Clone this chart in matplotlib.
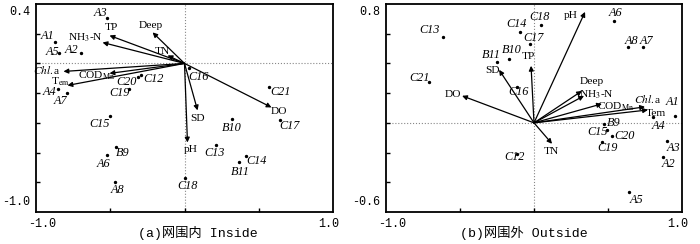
import numpy as np
import matplotlib.pyplot as plt

plt.rcParams['font.family'] = ['Liberation Serif', 'DejaVu Serif']
plt.rcParams['mathtext.fontset'] = 'stix'

# ---- panel (a): inside the enclosure ----
a_sites = ["A1", "A2", "A3", "A4", "A5", "A6", "A7", "A8", "B9", "B10", "B11",
           "C12", "C13", "C14", "C15", "C16", "C17", "C18", "C19", "C20", "C21"]
a_site_x = [-0.869, -0.694, -0.519, -0.855, -0.842, -0.525, -0.788, -0.465, -0.458, 0.323, 0.370,
            -0.290, 0.215, 0.411, -0.505, 0.027, 0.646, 0.000, -0.377, -0.316, 0.566]
a_site_y = [0.141, 0.067, 0.303, -0.175, 0.067, -0.619, -0.202, -0.801, -0.565, -0.377, -0.666,
            -0.081, -0.552, -0.626, -0.357, -0.034, -0.384, -0.774, -0.175, -0.094, -0.162]

a_vars = ["Deep", "TN", "TP", "NH3-N", "Chl.a", "COD", "Tem", "DO", "SD", "pH"]
a_var_x = [-0.215, -0.114, -0.505, -0.552, -0.815, -0.505, -0.788, 0.586, 0.088, 0.020]
a_var_y = [0.209, 0.054, 0.188, 0.141, -0.054, -0.067, -0.148, -0.296, -0.316, -0.532]

# ---- panel (b): outside the enclosure ----
b_sites = ["A1", "A2", "A3", "A4", "A5", "A6", "A7", "A8", "B9", "B10", "B11",
           "C12", "C13", "C14", "C15", "C16", "C17", "C18", "C19", "C20", "C21"]
b_site_x = [0.953, 0.872, 0.899, 0.804, 0.642, 0.541, 0.736, 0.635, 0.473, -0.169, -0.250,
            -0.115, -0.615, -0.095, 0.493, -0.115, -0.027, 0.047, 0.459, 0.527, -0.709]
b_site_y = [0.047, -0.229, -0.121, 0.040, -0.464, 0.686, 0.511, 0.511, -0.007, 0.431, 0.410,
            -0.209, 0.579, 0.612, -0.047, 0.242, 0.532, 0.659, -0.128, -0.087, 0.276]

b_vars = ["pH", "TP", "SD", "DO", "Deep", "NH3-N", "COD", "Chl.a", "Tem", "TN"]
b_var_x = [0.345, -0.020, -0.236, -0.486, 0.324, 0.338, 0.459, 0.750, 0.770, 0.122]
b_var_y = [0.747, 0.384, 0.357, 0.182, 0.215, 0.182, 0.128, 0.108, 0.087, -0.141]

# label text for variables
var_text_a = {"NH3-N": "NH$_3$-N", "Chl.a": "$\\mathit{Chl.}$a", "COD": "COD$_{\\rm Mn}$",
              "Tem": "T$_{\\rm em}$"}
var_text_b = {"NH3-N": "NH$_3$-N", "Chl.a": "$\\mathit{Chl.}$a", "COD": "COD$_{\\rm Mn}$",
              "Tem": "Tem"}

# label offsets (pixels) relative to point / arrow tip
a_site_off = {"A1": (-8, 6), "A2": (-10, 3), "A3": (-7, 5), "A4": (-8, -3), "A5": (-7, 1),
              "A6": (-3, -9), "A7": (-7, -8), "A8": (2, -8), "B9": (6, -6), "B10": (-1, -9),
              "B11": (1, -10), "C12": (12, -4), "C13": (-2, -8), "C14": (11, -5),
              "C15": (-10, -8), "C16": (10, -9), "C17": (9, -6), "C18": (3, -8),
              "C19": (-9, -4), "C20": (-11, -5), "C21": (12, -5)}
a_var_off = {"Deep": (-2, 7), "TN": (-5, 4), "TP": (2, 8), "NH3-N": (-17, 5),
             "Chl.a": (-17, 1), "COD": (-13, -2), "Tem": (-7, 4), "DO": (7, -4),
             "SD": (0, -8), "pH": (3, -7)}
b_site_off = {"A1": (-3, 14), "A2": (5, -7), "A3": (6, -7), "A4": (5, -9), "A5": (7, -8),
              "A6": (1, 8), "A7": (4, 6), "A8": (4, 6), "B9": (10, 1), "B10": (3, 9),
              "B11": (-6, 7), "C12": (-2, -3), "C13": (-13, 7), "C14": (-3, 8),
              "C15": (-9, -2), "C16": (2, -5), "C17": (3, 6), "C18": (-1, 8),
              "C19": (6, -6), "C20": (13, 0), "C21": (-10, 4)}
b_var_off = {"pH": (-14, -4), "TP": (-3, 9), "SD": (-7, -1), "DO": (-9, 1), "Deep": (10, 9),
             "NH3-N": (12, 1), "COD": (14, -3), "Chl.a": (3, 8), "Tem": (8, -4), "TN": (-1, -8)}

mono = ['Liberation Mono', 'Noto Sans CJK SC']

fig = plt.figure(figsize=(7, 2.44), dpi=100)
ax_a = fig.add_axes([36 / 700, 32 / 244, 297 / 700, 208 / 244])
ax_b = fig.add_axes([386 / 700, 32 / 244, 296 / 700, 208 / 244])


def draw(ax, ylim, yticks, sites, sx, sy, soff, vars_, vx, vy, voff, vtext,
         ylabels, caption, cap_x):
    ax.set_xlim(-1, 1)
    ax.set_ylim(*ylim)
    ax.axhline(0, color='#888888', ls=':', lw=0.8, zorder=0)
    ax.axvline(0, color='#888888', ls=':', lw=0.8, zorder=0)
    for s in ax.spines.values():
        s.set_linewidth(1.3)
    ax.set_xticks([-0.5, 0, 0.5])
    ax.set_yticks(yticks)
    ax.tick_params(direction='in', length=3, width=1, labelleft=False, labelbottom=False)

    ax.scatter(sx, sy, s=2, color='k', zorder=3)
    for name, x, y in zip(sites, sx, sy):
        ax.annotate(name, (x, y), xytext=soff[name], textcoords='offset pixels',
                    ha='center', va='center', fontsize=8.8, fontstyle='italic')

    for name, x, y in zip(vars_, vx, vy):
        ax.annotate('', xy=(x, y), xytext=(0, 0),
                    arrowprops=dict(arrowstyle='-|>', color='k', lw=0.9,
                                    mutation_scale=7, shrinkA=0, shrinkB=0))
        ax.annotate(vtext.get(name, name), (x, y), xytext=voff[name],
                    textcoords='offset pixels', ha='center', va='center', fontsize=8.2)

    ax.text(-0.02, 0.96, ylabels[0], transform=ax.transAxes, ha='right', va='center',
            fontsize=8.5, family=mono)
    ax.text(-0.02, 0.05, ylabels[1], transform=ax.transAxes, ha='right', va='center',
            fontsize=8.5, family=mono)
    ax.text(0.02, -0.03, '-1.0', transform=ax.transAxes, ha='center', va='top',
            fontsize=8.5, family=mono)
    ax.text(0.985, -0.03, '1.0', transform=ax.transAxes, ha='center', va='top',
            fontsize=8.5, family=mono)
    ax.text(cap_x, -0.1, caption, transform=ax.transAxes, ha='left', va='center',
            fontsize=9.5, family=mono)


draw(ax_a, (-1.0, 0.4), np.arange(-0.8, 0.3, 0.2), a_sites, a_site_x, a_site_y, a_site_off,
     a_vars, a_var_x, a_var_y, a_var_off, var_text_a, ('0.4', '-1.0'),
     '(a)网围内 Inside', 0.343)
draw(ax_b, (-0.6, 0.8), np.arange(-0.4, 0.7, 0.2), b_sites, b_site_x, b_site_y, b_site_off,
     b_vars, b_var_x, b_var_y, b_var_off, var_text_b, ('0.8', '-0.6'),
     '(b)网围外 Outside', 0.25)

fig.savefig('out.png', dpi=100)
